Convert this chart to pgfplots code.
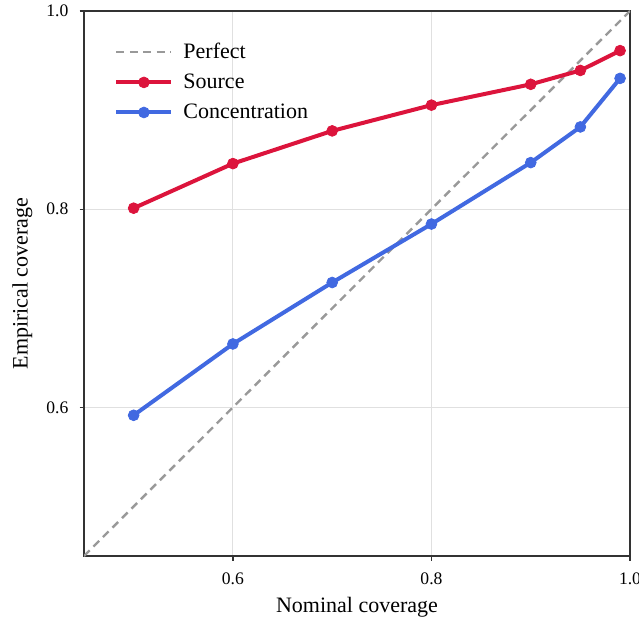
\documentclass[border=0pt]{standalone}
\usepackage{pgfplots}
\pgfplotsset{compat=1.18}
\usepackage{fontspec}
\setmainfont{Liberation Serif}
\definecolor{cred}{HTML}{DC143C}
\definecolor{cblue}{HTML}{4169E1}
\definecolor{cgray}{HTML}{999999}
\definecolor{cgrid}{HTML}{E0E0E0}
\definecolor{caxis}{HTML}{333333}
\begin{document}
\begin{tikzpicture}
\begin{axis}[
  name=ax,
  scale only axis,
  width=273pt, height=272.5pt,
  xmin=0.45, xmax=1.0, ymin=0.45, ymax=1.0,
  xtick={0.6,0.8,1.0}, ytick={0.6,0.8,1.0},
  xtick pos=bottom, ytick pos=left,
  tick align=outside,
  major tick length=2.25pt,
  every tick/.style={caxis, line width=0.6pt},
  axis line style={caxis, line width=0.8pt},
  grid=major,
  major grid style={cgrid, line width=0.5pt},
  /pgf/number format/assume math mode=true,
  /pgf/number format/.cd, fixed, fixed zerofill, precision=1, /pgfplots/.cd,
  ticklabel style={font=\fontsize{8.8}{10}\selectfont},
  xticklabel style={yshift=-2.5pt},
  yticklabel style={xshift=-2pt},
  xlabel={Nominal coverage},
  ylabel={Empirical coverage},
  label style={font=\fontsize{11}{13}\selectfont},
  xlabel style={at={(axis description cs:0.5,-0.094)}, anchor=center},
  ylabel style={at={(axis description cs:-0.113,0.5)}, anchor=center},
  legend style={draw=none, fill=none, at={(axis description cs:0.055,0.95)}, anchor=north west,
    font=\fontsize{11}{13}\selectfont, row sep=2.25pt, inner sep=0pt},
  legend cell align=left,
  /tikz/every odd column/.append style={column sep=3pt},
  legend image code/.code={\draw[mark repeat=2,mark phase=2,#1] plot coordinates {(0pt,0pt) (13.75pt,0pt) (27.5pt,0pt)};},
]
\addplot[cgray, dashed, dash pattern=on 4pt off 2.7pt, line width=1.2pt, no marks] coordinates {(0.45,0.45) (1.0,1.0)};
\addlegendentry{Perfect}
\addplot[cred, line width=2pt, mark=*, mark size=2.7pt, mark options={solid, line width=0.4pt}] coordinates {
(0.5,0.801) (0.6,0.846) (0.7,0.879) (0.8,0.905) (0.9,0.926) (0.95,0.940) (0.99,0.960)};
\addlegendentry{Source}
\addplot[cblue, line width=2pt, mark=*, mark size=2.7pt, mark options={solid, line width=0.4pt}] coordinates {
(0.5,0.592) (0.6,0.664) (0.7,0.726) (0.8,0.785) (0.9,0.847) (0.95,0.883) (0.99,0.932)};
\addlegendentry{Concentration}
\end{axis}
\pgfresetboundingbox
\path ([shift={(-42pt,-31.5pt)}]ax.south west) rectangle ([shift={(4.5pt,5.5pt)}]ax.north east);
\end{tikzpicture}
\end{document}
